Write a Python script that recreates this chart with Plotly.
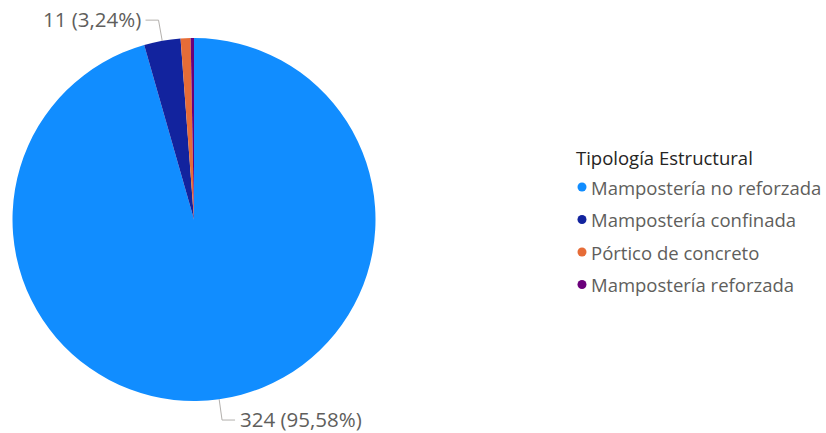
import math
import plotly.graph_objects as go

# Structural typology counts
categories = ["Mampostería no reforzada", "Mampostería confinada",
              "Pórtico de concreto", "Mampostería reforzada"]
counts = [324, 11, 3, 1]
colors = ["#118DFF", "#12239E", "#E66C37", "#6B007B"]
legend_title = "Tipología Estructural"

W, H = 826, 433
CX, CY, R = 194, 219.5, 181.5   # pie centre / radius in pixels

LABEL_COLOR = "#605E5C"
LINE_COLOR = "#B3B0AD"
FONT = "Open Sans, Segoe UI, sans-serif"


def px(x):
    return x / W


def py(y):
    return 1 - y / H


fig = go.Figure()
fig.add_trace(go.Pie(
    labels=categories,
    values=counts,
    sort=False,
    direction="clockwise",
    rotation=0,
    marker=dict(colors=colors, line=dict(width=0)),
    textinfo="none",
    hoverinfo="label+value+percent",
    showlegend=False,
    domain=dict(x=[px(CX - R), px(CX + R)], y=[py(CY + R), py(CY - R)]),
))

# Outside data labels with elbow leader lines for the two largest slices
total = sum(counts)
shapes = []
annotations = []
cum = 0
for i, v in enumerate(counts):
    start = cum
    cum += v
    if i > 1:
        continue
    mid = (start + v / 2) / total * 2 * math.pi
    dx, dy = math.sin(mid), -math.cos(mid)
    p0 = (CX + R * dx, CY + R * dy)
    ext = 21
    p1 = (p0[0] + ext * dx, p0[1] + ext * dy)
    side = 1 if dx >= 0 else -1
    p2 = (p1[0] + 13 * side, p1[1])
    pct = f"{v / total * 100:.2f}".replace(".", ",")
    path = (f"M {px(p0[0])},{py(p0[1])} L {px(p1[0])},{py(p1[1])} "
            f"L {px(p2[0])},{py(p2[1])}")
    shapes.append(dict(type="path", xref="paper", yref="paper", path=path,
                       line=dict(color=LINE_COLOR, width=1)))
    annotations.append(dict(
        x=px(p2[0] + 3 * side), y=py(p2[1] - 1.5),
        xref="paper", yref="paper",
        text=f"{v} ({pct}%)", showarrow=False,
        xanchor="left" if side > 0 else "right", yanchor="middle",
        font=dict(family=FONT, size=20.5, color=LABEL_COLOR),
    ))

# Legend: title plus circle markers and category names
LX, LY0, LSTEP = 582, 187, 32.5
annotations.append(dict(
    x=px(574), y=py(157), xref="paper", yref="paper", text=legend_title,
    showarrow=False, xanchor="left", yanchor="middle",
    font=dict(family=FONT, size=18.5, color="#252423"),
))
for i, (name, col) in enumerate(zip(categories, colors)):
    yc = LY0 + i * LSTEP
    shapes.append(dict(type="circle", xref="paper", yref="paper",
                       x0=px(LX - 4.5), x1=px(LX + 4.5),
                       y0=py(yc + 4.5), y1=py(yc - 4.5),
                       fillcolor=col, line=dict(width=0)))
    annotations.append(dict(
        x=px(LX + 7), y=py(yc), xref="paper", yref="paper", text=name,
        showarrow=False, xanchor="left", yanchor="middle",
        font=dict(family=FONT, size=18.5, color=LABEL_COLOR),
    ))

fig.update_layout(
    width=W, height=H,
    margin=dict(l=0, r=0, t=0, b=0),
    paper_bgcolor="white", plot_bgcolor="white",
    shapes=shapes, annotations=annotations,
)

fig.write_html("out.html")
